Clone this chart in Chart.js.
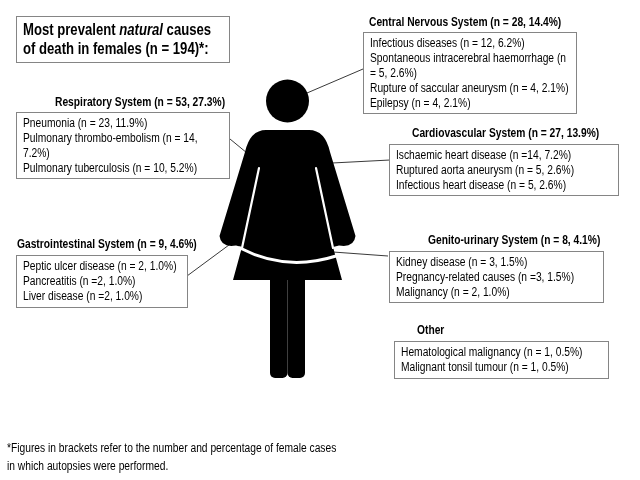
<!DOCTYPE html>
<html>
<head>
<meta charset="utf-8">
<script src="https://cdn.jsdelivr.net/npm/chart.js@4/dist/chart.umd.min.js"></script>
<style>
  html, body { margin: 0; padding: 0; background: #fff; }
  canvas { display: block; }
</style>
</head>
<body>
<canvas id="chart" width="640" height="480"></canvas>
<script>
// data
const totalCases = 194;
const systemNames = ['Respiratory System', 'Central Nervous System', 'Cardiovascular System',
                     'Gastrointestinal System', 'Genito-urinary System', 'Other'];
const systemCounts = [53, 28, 27, 9, 8, null];
const systemPercents = [27.3, 14.4, 13.9, 4.6, 4.1, null];
const causeNames = [
    ['Pneumonia', 'Pulmonary thrombo-embolism', 'Pulmonary tuberculosis'],
    ['Infectious diseases', 'Spontaneous intracerebral haemorrhage', 'Rupture of saccular aneurysm', 'Epilepsy'],
    ['Ischaemic heart disease', 'Ruptured aorta aneurysm', 'Infectious heart disease'],
    ['Peptic ulcer disease', 'Pancreatitis', 'Liver disease'],
    ['Kidney disease', 'Pregnancy-related causes', 'Malignancy'],
    ['Hematological malignancy', 'Malignant tonsil tumour']
];
const causeCounts = [[23, 14, 10], [12, 5, 4, 4], [14, 5, 5], [2, 2, 2], [3, 3, 2], [1, 1]];
const causePercents = [[11.9, 7.2, 5.2], [6.2, 2.6, 2.1, 2.1], [7.2, 2.6, 2.6], [1.0, 1.0, 1.0], [1.5, 1.5, 1.0], [0.5, 0.5]];
// the source writes some of them as "n =14" without the space
const tightN = [[0, 0, 0], [0, 0, 0, 0], [1, 0, 0], [0, 1, 1], [0, 1, 0], [0, 0]];
const footnote = ['*Figures in brackets refer to the number and percentage of female cases',
                  'in which autopsies were performed.'];

// layout (image pixels)
const boxLayout = [
    { x: 16,  y: 112, w: 213, h: 66, hx: 55,  hy: 103, wrap: 192 },
    { x: 363, y: 32,  w: 213, h: 81, hx: 369, hy: 23,  wrap: 202 },
    { x: 389, y: 144, w: 229, h: 51, hx: 412, hy: 134, wrap: 215 },
    { x: 16,  y: 255, w: 171, h: 52, hx: 17,  hy: 245, wrap: 162 },
    { x: 389, y: 251, w: 214, h: 51, hx: 428, hy: 241, wrap: 205 },
    { x: 394, y: 341, w: 214, h: 37, hx: 417, hy: 331, wrap: 205 }
];
const connectors = [[230, 139, 247, 153], [363, 69, 307, 93], [390, 160, 332, 163],
                    [187, 276, 233, 242], [388, 256, 333, 252]];

const NARROW = 'Liberation Sans Narrow';
const FS = 12.5;
let narrowOK = true;

function checkNarrow(ctx) {
    ctx.font = '20px monospace';
    const a = ctx.measureText('Respiratory System').width;
    ctx.font = '20px "' + NARROW + '", monospace';
    const b = ctx.measureText('Respiratory System').width;
    narrowOK = Math.abs(a - b) > 0.5;
}

function setFont(ctx, size, bold, italic) {
    const fam = narrowOK ? '"' + NARROW + '"' : '"Liberation Sans", Arial';
    ctx.font = (italic ? 'italic ' : '') + (bold ? 'bold ' : '') + size + 'px ' + fam;
}
function textW(ctx, t) {
    return ctx.measureText(t).width * (narrowOK ? 1 : 0.82);
}
function text(ctx, t, x, y) {
    if (narrowOK) { ctx.fillText(t, x, y); return textW(ctx, t); }
    ctx.save();
    ctx.translate(x, y);
    ctx.scale(0.82, 1);
    ctx.fillText(t, 0, 0);
    ctx.restore();
    return textW(ctx, t);
}
function wrapLines(ctx, t, maxW) {
    const words = t.split(' ');
    const lines = [];
    let cur = '';
    words.forEach(w => {
        const test = cur ? cur + ' ' + w : w;
        if (cur && textW(ctx, test) > maxW) { lines.push(cur); cur = w; }
        else cur = test;
    });
    if (cur) lines.push(cur);
    return lines;
}

function drawWoman(ctx, px, py) {
    ctx.save();
    ctx.fillStyle = '#000';
    // head
    ctx.beginPath();
    ctx.arc(px(287.5), py(101), 21.5, 0, Math.PI * 2);
    ctx.fill();
    // torso, arms, skirt
    ctx.beginPath();
    ctx.moveTo(px(233), py(280));
    ctx.lineTo(px(242), py(247));
    ctx.lineTo(px(236), py(245.5));
    ctx.quadraticCurveTo(px(221), py(248), px(219.5), py(236));
    ctx.lineTo(px(245), py(152));
    ctx.quadraticCurveTo(px(250), py(130), px(266), py(130));
    ctx.lineTo(px(309), py(130));
    ctx.quadraticCurveTo(px(325), py(130), px(330), py(152));
    ctx.lineTo(px(355.5), py(236));
    ctx.quadraticCurveTo(px(354), py(248), px(339), py(245.5));
    ctx.lineTo(px(333), py(247));
    ctx.lineTo(px(342), py(280));
    ctx.closePath();
    ctx.fill();
    // legs
    [[270, 287.5], [287.5, 305]].forEach(([a, b]) => {
        ctx.beginPath();
        ctx.roundRect(px(a), py(276), px(b) - px(a), py(378) - py(276), [0, 0, 5, 5]);
        ctx.fill();
    });
    // white gaps and belt
    ctx.strokeStyle = '#fff';
    ctx.lineCap = 'round';
    ctx.lineWidth = 2.2;
    ctx.beginPath();
    ctx.moveTo(px(259), py(168)); ctx.lineTo(px(242), py(248));
    ctx.moveTo(px(316), py(168)); ctx.lineTo(px(333), py(248));
    ctx.stroke();
    ctx.lineWidth = 3;
    ctx.beginPath();
    ctx.moveTo(px(240), py(248));
    ctx.quadraticCurveTo(px(286), py(272), px(336), py(256));
    ctx.stroke();
    ctx.restore();
}

const infographic = {
    id: 'infographic',
    afterDraw(chart) {
        const ctx = chart.ctx;
        const xs = chart.scales.x, ys = chart.scales.y;
        const px = v => xs.getPixelForValue(v);
        const py = v => ys.getPixelForValue(v);
        checkNarrow(ctx);
        ctx.save();
        ctx.fillStyle = '#fff';
        ctx.fillRect(0, 0, chart.width, chart.height);

        // connector lines
        ctx.strokeStyle = '#3a3a3a';
        ctx.lineWidth = 1;
        connectors.forEach(c => {
            ctx.beginPath();
            ctx.moveTo(px(c[0]), py(c[1]));
            ctx.lineTo(px(c[2]), py(c[3]));
            ctx.stroke();
        });

        drawWoman(ctx, px, py);

        // title box
        ctx.strokeStyle = '#858585';
        ctx.strokeRect(px(16) + 0.5, py(16) + 0.5, 213, 46);
        ctx.fillStyle = '#000';
        ctx.textBaseline = 'middle';
        ctx.textAlign = 'left';
        let tx = px(23);
        setFont(ctx, 16, true, false);
        tx += text(ctx, 'Most prevalent ', tx, py(31));
        setFont(ctx, 16, true, true);
        tx += text(ctx, 'natural', tx, py(31));
        setFont(ctx, 16, true, false);
        text(ctx, ' causes', tx, py(31));
        text(ctx, 'of death in females (n = ' + totalCases + ')*:', px(23), py(50));

        // system boxes
        systemNames.forEach((name, i) => {
            const b = boxLayout[i];
            setFont(ctx, FS, true, false);
            const head = systemCounts[i] == null ? name
                : name + ' (n = ' + systemCounts[i] + ', ' + systemPercents[i].toFixed(1) + '%)';
            text(ctx, head, px(b.hx), py(b.hy));
            ctx.strokeStyle = '#858585';
            ctx.strokeRect(px(b.x) + 0.5, py(b.y) + 0.5, b.w, b.h);
            setFont(ctx, FS, false, false);
            let ly = b.y + 12;
            causeNames[i].forEach((c, j) => {
                const eq = tightN[i][j] ? ' (n =' : ' (n = ';
                const t = c + eq + causeCounts[i][j] + ', ' + causePercents[i][j].toFixed(1) + '%)';
                wrapLines(ctx, t, b.wrap).forEach(line => {
                    text(ctx, line, px(b.x + 7), py(ly));
                    ly += 14.8;
                });
            });
        });

        // footnote
        setFont(ctx, FS, false, false);
        text(ctx, footnote[0], px(7), py(449));
        text(ctx, footnote[1], px(7), py(467));
        ctx.restore();
    }
};

new Chart(document.getElementById('chart'), {
    type: 'scatter',
    data: { datasets: [{ data: [], pointRadius: 0 }] },
    options: {
        responsive: false,
        animation: false,
        layout: { padding: 0 },
        plugins: { legend: { display: false }, tooltip: { enabled: false } },
        scales: {
            x: { type: 'linear', min: 0, max: 640, display: false },
            y: { type: 'linear', min: 0, max: 480, reverse: true, display: false }
        }
    },
    plugins: [infographic]
});
</script>
</body>
</html>
